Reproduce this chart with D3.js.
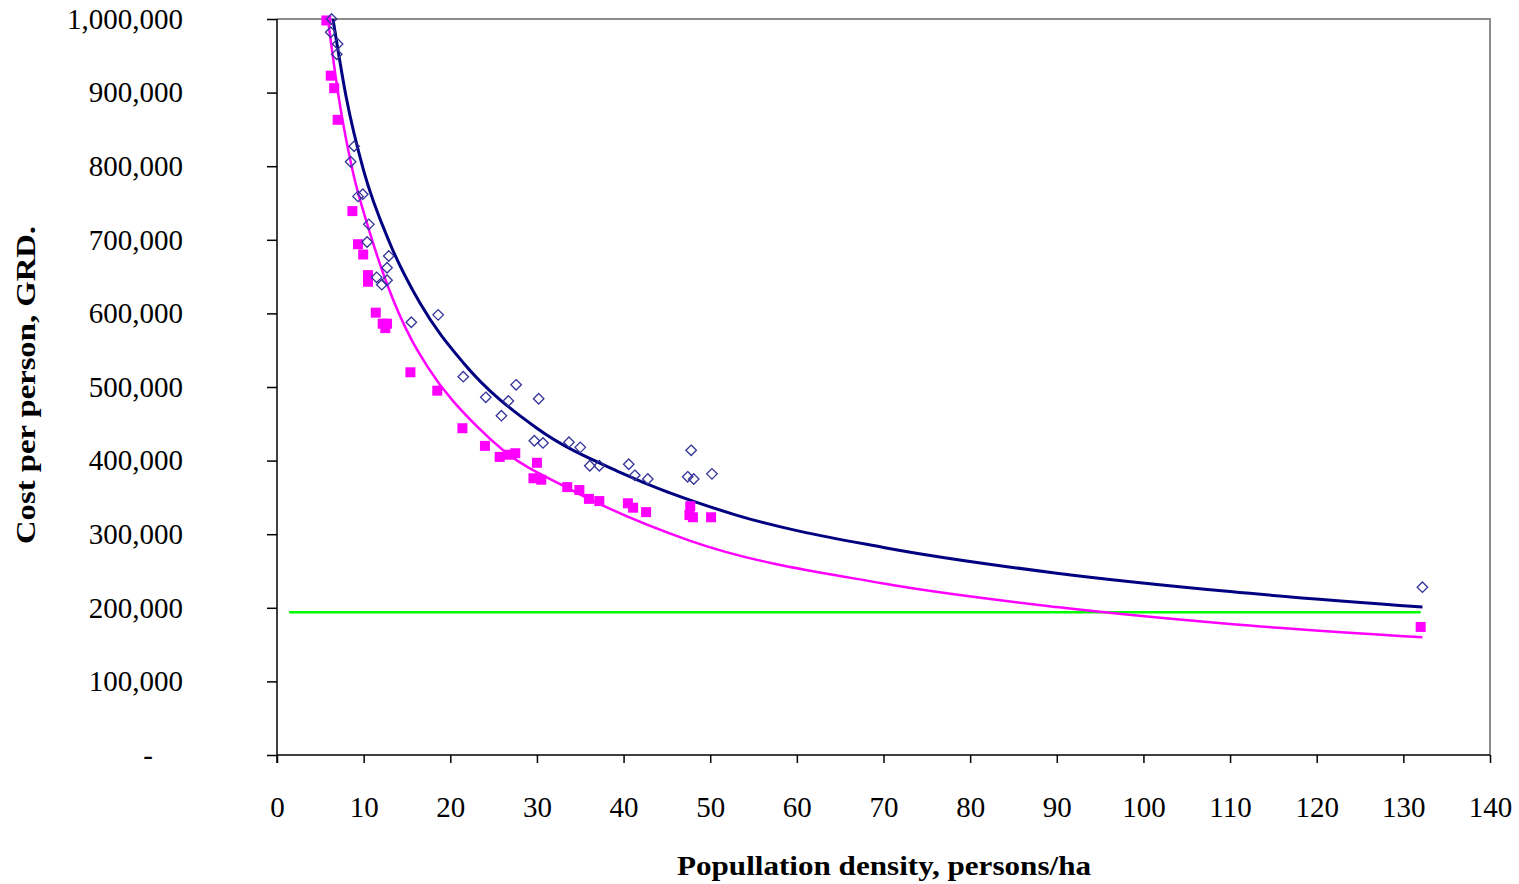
<!DOCTYPE html>
<html>
<head>
<meta charset="utf-8">
<script src="https://cdn.jsdelivr.net/npm/d3@7"></script>
<style>
  body { margin: 0; background: #fff; }
  text { font-family: "Liberation Serif", "Times New Roman", serif; }
</style>
</head>
<body>
<div id="chart"></div>
<script>
// ---- data ----
// open diamonds (blue)
const blueX = [6.3, 6.2, 7.0, 6.9, 8.9, 8.5, 9.9, 9.35, 10.6, 10.4, 12.9, 12.7, 11.5, 12.7, 12.1,
  15.5, 18.6, 21.5, 24.1, 27.6, 26.7, 25.9, 30.2, 29.7, 30.7, 33.7, 35.0, 36.1, 37.2,
  40.6, 41.3, 42.8, 47.8, 47.4, 48.1, 50.2, 132.2]
const blueY = [1000000, 982000, 966000, 952000, 827000, 806000, 762000, 759000, 721000, 697000, 678000, 662000, 649000, 645000, 639000,
  588000, 598000, 514000, 486000, 503000, 481000, 461000, 484000, 427000, 424000, 425000, 418000, 393000, 393000,
  395000, 380000, 375000, 414000, 378000, 375000, 382000, 228000]

// filled squares (magenta)
const pinkX = [5.7, 6.2, 6.6, 7.0, 8.7, 9.35, 9.95, 10.5, 10.5, 11.4, 12.2, 12.7, 12.5,
  15.4, 18.5, 21.4, 24.0, 25.7, 26.7, 27.5, 30.0, 29.6, 30.5, 33.5, 34.9, 36.0, 37.2,
  40.5, 41.1, 42.6, 47.7, 47.6, 48.0, 50.1, 132.0]
const pinkY = [998000, 923000, 906000, 863000, 739000, 694000, 680000, 652000, 643000, 601000, 586000, 586000, 580000,
  520000, 495000, 444000, 420000, 405000, 408000, 410000, 397000, 376000, 374000, 364000, 360000, 348000, 345000,
  342000, 336000, 330000, 338000, 326000, 323000, 323000, 174000]

// trend curves
const blueTrendX = [6.46, 8, 10, 13, 16.5, 21.5, 30, 40, 53, 70, 90, 110, 132.2]
const blueTrendY = [1000000, 893000, 794000, 696000, 614000, 533000, 444000, 382000, 326000, 282000, 247000, 222000, 201000]
const pinkTrendX = [5.89, 7, 8.8, 10.5, 12.7, 15.4, 17.4, 23.2, 26.1, 33.5, 47.7, 70, 90, 110, 132.2]
const pinkTrendY = [999000, 903000, 790000, 718000, 640000, 567000, 527000, 445000, 414000, 363000, 291000, 233000, 201000, 178000, 160000]

// flat green series
const greenX = [1.4, 132]
const greenY = [194000, 194000]

const xTicks = [0, 10, 20, 30, 40, 50, 60, 70, 80, 90, 100, 110, 120, 130, 140]
const yTicks = [0, 100000, 200000, 300000, 400000, 500000, 600000, 700000, 800000, 900000, 1000000]

// ---- layout ----
const W = 1519, H = 884
const margin = {top: 19, right: 29, bottom: 129, left: 277}
const width = W - margin.left - margin.right
const height = H - margin.top - margin.bottom

const svg = d3.select('#chart').append('svg')
    .attr('width', W)
    .attr('height', H)

const g = svg.append('g')
    .attr('transform', 'translate(' + margin.left + ',' + margin.top + ')')

const x = d3.scaleLinear().domain([0, 140]).range([0, width])
const y = d3.scaleLinear().domain([0, 1000000]).range([height, 0])

g.append('clipPath').attr('id', 'clip')
  .append('rect').attr('width', width).attr('height', height)

// plot area frame (grey top + right)
g.append('path')
    .attr('d', 'M0,0H' + width + 'V' + height)
    .attr('fill', 'none')
    .attr('stroke', '#8c8c8c')
    .attr('stroke-width', 2)

let line = d3.line().x(d => x(d[0])).y(d => y(d[1])).curve(d3.curveMonotoneX)
let pairs = (xs, ys) => xs.map((v, i) => [v, ys[i]])

const lines = g.append('g').attr('clip-path', 'url(#clip)')

lines.append('path')
    .datum(pairs(greenX, greenY))
    .attr('d', line)
    .attr('fill', 'none')
    .attr('stroke', '#00ff00')
    .attr('stroke-width', 2.5)

lines.append('path')
    .datum(pairs(pinkTrendX, pinkTrendY))
    .attr('d', line)
    .attr('fill', 'none')
    .attr('stroke', '#ff00ff')
    .attr('stroke-width', 2.5)

lines.append('path')
    .datum(pairs(blueTrendX, blueTrendY))
    .attr('d', line)
    .attr('fill', 'none')
    .attr('stroke', '#000080')
    .attr('stroke-width', 3)

// markers
g.append('g').selectAll('rect.sq')
    .data(pairs(pinkX, pinkY))
    .enter().append('rect')
    .attr('class', 'sq')
    .attr('x', d => x(d[0]) - 5)
    .attr('y', d => y(d[1]) - 5)
    .attr('width', 10)
    .attr('height', 10)
    .attr('fill', '#ff00ff')

g.append('g').selectAll('path.dia')
    .data(pairs(blueX, blueY))
    .enter().append('path')
    .attr('class', 'dia')
    .attr('d', d3.symbol().type(d3.symbolDiamond2).size(70))
    .attr('transform', d => 'translate(' + x(d[0]) + ',' + y(d[1]) + ')')
    .attr('fill', 'none')
    .attr('stroke', '#333399')
    .attr('stroke-width', 1.3)

// axes
const xAxis = g.append('g')
    .attr('transform', 'translate(0,' + height + ')')
    .call(d3.axisBottom(x).tickValues(xTicks).tickSize(8).tickPadding(33).tickFormat(d3.format('d')))
const yAxis = g.append('g')
    .call(d3.axisLeft(y).tickValues(yTicks).tickSize(10).tickPadding(84)
        .tickFormat(d => d === 0 ? '-' : d3.format(',')(d)))

xAxis.select('.domain').attr('d', 'M0,0H' + width)
yAxis.select('.domain').attr('d', 'M0,0V' + (height + 8))
;[xAxis, yAxis].forEach(a => {
    a.selectAll('.domain, .tick line').attr('stroke', '#000').attr('stroke-width', 1.5)
    a.selectAll('.tick text').attr('font-size', 29).attr('fill', '#000')
        .style('font-family', '"Liberation Serif", serif')
})
yAxis.selectAll('.tick text')
    .attr('text-anchor', 'end')
    .attr('dx', d => d === 0 ? -30 : 0)

// titles
svg.append('text')
    .attr('x', 884)
    .attr('y', 875)
    .attr('text-anchor', 'middle')
    .attr('font-size', 27)
    .attr('font-weight', 'bold')
    .attr('textLength', 414)
    .attr('lengthAdjust', 'spacingAndGlyphs')
    .text('Popullation density, persons/ha')

svg.append('text')
    .attr('transform', 'translate(35,385) rotate(-90)')
    .attr('text-anchor', 'middle')
    .attr('font-size', 27)
    .attr('font-weight', 'bold')
    .attr('textLength', 318)
    .attr('lengthAdjust', 'spacingAndGlyphs')
    .text('Cost per person, GRD.')
</script>
</body>
</html>
